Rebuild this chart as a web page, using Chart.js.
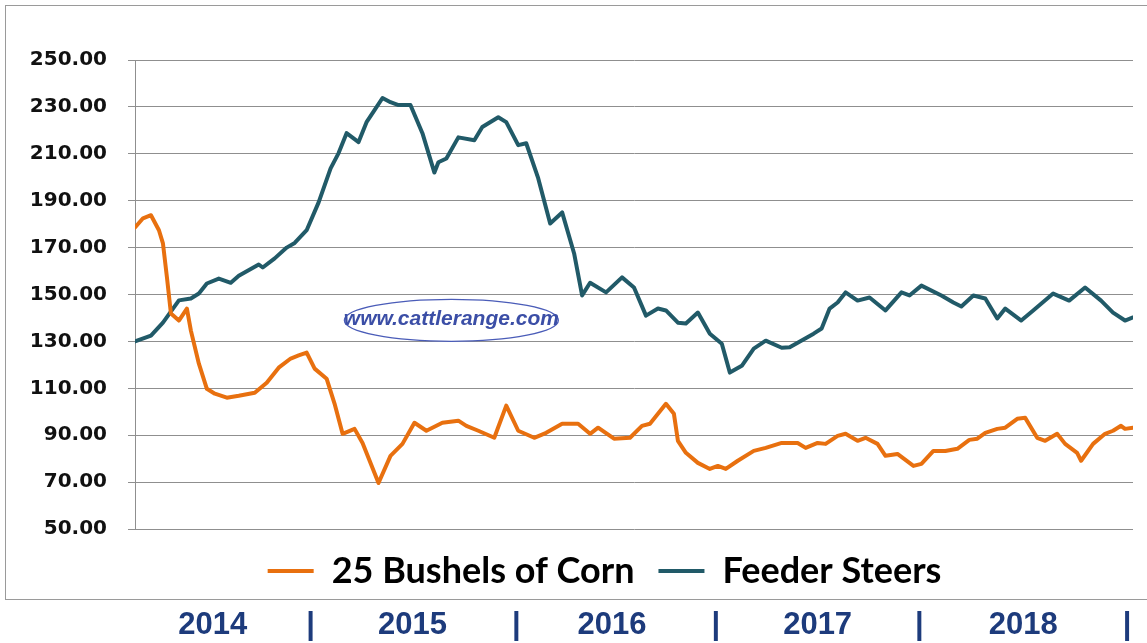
<!DOCTYPE html>
<html>
<head>
<meta charset="utf-8">
<script src="https://cdn.jsdelivr.net/npm/chart.js@4/dist/chart.umd.min.js"></script>
<style>
  html, body { margin: 0; padding: 0; background: #fff; }
  #wrap { width: 1147px; height: 643px; position: relative; }
</style>
</head>
<body>
<div id="wrap"><canvas id="chart"></canvas></div>
<script>
// weeks since start of series (about 4 px per week in the original)
const cornWeeks = [0, 2, 4, 6, 7, 8, 9, 11, 13, 14, 16, 18, 20, 23, 26, 30, 33, 36, 39, 41, 43, 45, 48, 50, 52, 55, 57, 61, 64, 67, 70, 73, 77, 81, 83, 86, 90, 93, 96, 100, 103, 107, 111, 114, 116, 120, 124, 127, 129, 133, 135, 136, 138, 141, 144, 146, 148, 151, 155, 158, 162, 166, 168, 171, 173, 176, 178, 181, 183, 186, 188, 191, 195, 197, 200, 203, 206, 209, 211, 213, 216, 218, 221, 223, 226, 228, 231, 233, 236, 237, 240, 243, 245, 247, 248, 250];
const cornValues = [178.6, 182.5, 183.8, 177.4, 171.8, 157.3, 141.9, 138.9, 144, 134.6, 120.5, 109.8, 107.7, 106, 106.8, 108.1, 112.4, 118.8, 122.7, 124, 125.2, 118.4, 114.1, 103.4, 90.6, 92.7, 86.7, 69.6, 81.2, 86.3, 95.3, 91.9, 95.3, 96.2, 94, 91.9, 88.9, 102.6, 91.9, 88.9, 91, 94.9, 94.9, 90.6, 93.2, 88.5, 88.9, 94, 94.9, 103.4, 99.1, 87.6, 82.5, 78.2, 75.6, 76.9, 75.6, 79.1, 83.3, 84.6, 86.7, 86.7, 84.6, 86.7, 86.3, 89.7, 90.6, 87.6, 88.9, 86.3, 81.2, 82, 76.9, 77.8, 83.3, 83.3, 84.2, 88, 88.5, 91, 92.7, 93.2, 97, 97.4, 88.9, 87.6, 90.6, 86.3, 82.5, 79.1, 86.3, 90.6, 91.9, 94, 92.7, 93.2];

const steerWeeks = [0, 4, 7, 11, 14, 16, 18, 21, 24, 26, 31, 32, 35, 38, 40, 43, 46, 49, 51, 53, 56, 58, 60, 62, 64, 66, 69, 72, 75, 76, 78, 81, 85, 87, 91, 93, 96, 98, 101, 104, 107, 110, 112, 114, 118, 122, 125, 128, 131, 133, 136, 138, 141, 144, 147, 149, 152, 155, 158, 162, 164, 170, 172, 174, 176, 178, 181, 184, 188, 192, 194, 197, 202, 205, 207, 210, 213, 216, 218, 222, 225, 230, 234, 238, 242, 245, 248, 250];
const steerValues = [130, 132.5, 138, 147.5, 148.3, 150.4, 154.7, 156.8, 155, 158, 162.8, 161.5, 165.4, 170, 172, 177.4, 189.3, 203.8, 210.3, 218.8, 215, 223.5, 228.6, 233.8, 232, 230.8, 230.8, 218.8, 202, 206.4, 208, 217, 215.8, 221.4, 225.6, 223.5, 213.7, 214.5, 199.6, 180.3, 185, 167.5, 149.6, 155, 150.9, 157.3, 153, 141, 144, 143.2, 138, 137.6, 142.3, 133.3, 129, 116.7, 119.6, 126.9, 130.3, 127.3, 127.5, 133.3, 135.5, 144, 146.6, 150.9, 147.4, 148.7, 143.2, 150.9, 149.6, 153.8, 149.6, 146.6, 144.9, 149.6, 148.3, 139.8, 144, 138.9, 143.2, 150.4, 147.4, 153, 147.4, 142.3, 138.9, 140.2];

const yearLabels = ['2014', '2015', '2016', '2017', '2018'];
const yearCenters = [19.5, 69.5, 119.5, 171, 222.5];
const yearSeparators = [44, 95.5, 145.5, 196.5, 248.5];

const toPoints = (xs, ys) => xs.map((x, i) => ({ x: x, y: ys[i] }));

const decorations = {
  id: 'decorations',
  afterLayout(chart) {
    // legend sits a bit right of the canvas centre in the original
    chart.legend.left += 38;
    chart.legend.right += 38;
  },
  beforeDraw(chart) {
    const c = chart.ctx;
    c.save();
    c.fillStyle = '#fff';
    c.fillRect(0, 0, chart.width, chart.height);
    c.strokeStyle = '#9a9a9a';
    c.lineWidth = 1;
    c.strokeRect(5.5, 5.5, chart.width + 10, 594);
    c.restore();
  },
  afterDatasetsDraw(chart) {
    const c = chart.ctx;
    const xs = chart.scales.x, ys = chart.scales.y;
    // watermark
    const cx = xs.getPixelForValue(79.25), cy = ys.getPixelForValue(139);
    c.save();
    c.fillStyle = '#fff';
    c.strokeStyle = '#4a5cb8';
    c.lineWidth = 1.3;
    c.beginPath();
    c.ellipse(cx, cy, 107, 21, 0, 0, Math.PI * 2);
    c.fill();
    c.stroke();
    c.fillStyle = '#3b4ea6';
    c.font = 'italic bold 21px "Liberation Sans Narrow", "Liberation Sans", sans-serif';
    c.textAlign = 'center';
    c.textBaseline = 'middle';
    c.fillText('www.cattlerange.com', cx, cy - 1);
    c.restore();
  },
  afterDraw(chart) {
    const c = chart.ctx;
    const xs = chart.scales.x;
    c.save();
    c.fillStyle = '#1d3b7c';
    c.font = 'bold 31px "Liberation Sans Narrow", "Liberation Sans", sans-serif';
    c.textAlign = 'center';
    c.textBaseline = 'middle';
    yearLabels.forEach((label, i) => {
      c.fillText(label, xs.getPixelForValue(yearCenters[i]), 625);
      c.fillText('|', xs.getPixelForValue(yearSeparators[i]), 625);
    });
    c.restore();
  }
};

new Chart(document.getElementById('chart'), {
  type: 'line',
  data: {
    datasets: [
      {
        label: '25 Bushels of Corn',
        data: toPoints(cornWeeks, cornValues),
        borderColor: '#e8700f',
        backgroundColor: '#e8700f',
        borderWidth: 4,
        pointRadius: 0,
        tension: 0,
        borderJoinStyle: 'round',
        borderCapStyle: 'round'
      },
      {
        label: 'Feeder Steers',
        data: toPoints(steerWeeks, steerValues),
        borderColor: '#215a68',
        backgroundColor: '#215a68',
        borderWidth: 4,
        pointRadius: 0,
        tension: 0,
        borderJoinStyle: 'round',
        borderCapStyle: 'round'
      }
    ]
  },
  options: {
    responsive: true,
    maintainAspectRatio: false,
    animation: false,
    layout: { padding: { left: 0, right: 14, top: 60, bottom: 44 } },
    scales: {
      x: { type: 'linear', min: 0, max: 250, display: false },
      y: {
        min: 50,
        max: 250,
        afterFit(scale) { scale.width = 135; },
        ticks: {
          stepSize: 20,
          padding: 21,
          color: '#111',
          font: { family: '"DejaVu Sans", Verdana, sans-serif', weight: 'bold', size: 20 },
          callback: v => v.toFixed(2)
        },
        grid: { color: '#8f8f8f', lineWidth: 1, tickLength: 7 },
        border: { color: '#8f8f8f' }
      }
    },
    plugins: {
      legend: {
        position: 'bottom',
        labels: {
          usePointStyle: true,
          pointStyle: 'line',
          pointStyleWidth: 46,
          padding: 24,
          color: '#000',
          font: { family: 'Lato, "Open Sans", sans-serif', weight: 'bold', size: 36 }
        }
      },
      tooltip: { enabled: false }
    }
  },
  plugins: [decorations]
});
</script>
</body>
</html>
